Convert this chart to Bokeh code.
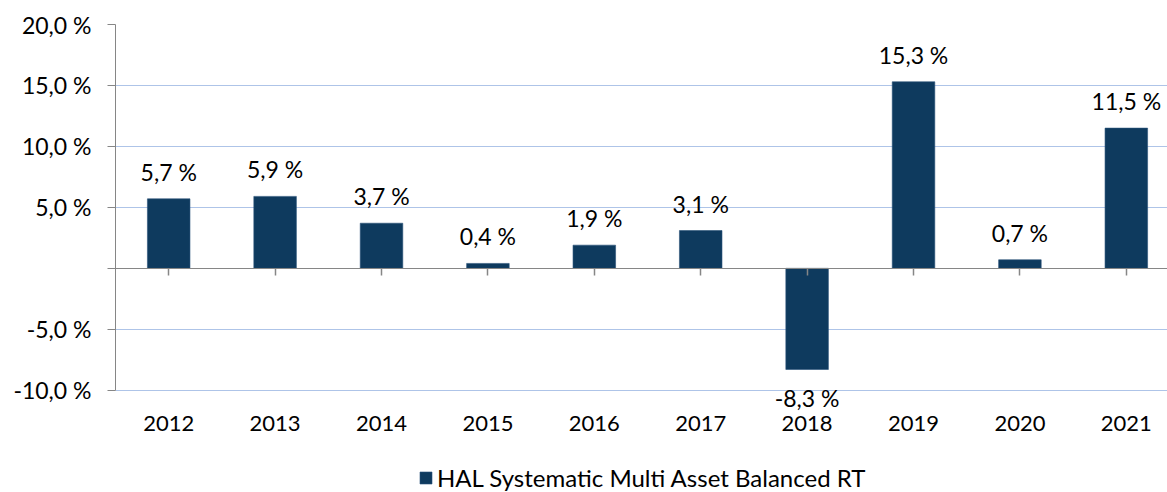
from bokeh.plotting import figure
from bokeh.models import ColumnDataSource, Range1d, FixedTicker, LinearAxis, Legend, LegendItem
from bokeh.core.properties import value
from bokeh.embed import file_html
from bokeh.resources import INLINE

years = [2012, 2013, 2014, 2015, 2016, 2017, 2018, 2019, 2020, 2021]
returns = [5.7, 5.9, 3.7, 0.4, 1.9, 3.1, -8.3, 15.3, 0.7, 11.5]
series_name = "HAL Systematic Multi Asset Balanced RT"
y_ticks = [-10, -5, 0, 5, 10, 15, 20]

FONT = "Lato"
FS = "23px"
BAR = "#0E3A5E"
GREY = "#868686"
GRID = "#aec4e8"

def fmt(v):
    return f"{v:.1f}".replace(".", ",") + " %"

labels = [fmt(v) for v in returns]
src = ColumnDataSource(dict(x=years, top=returns, label=labels))
pos = ColumnDataSource(dict(x=[x for x, v in zip(years, returns) if v >= 0],
                            y=[v for v in returns if v >= 0],
                            label=[l for l, v in zip(labels, returns) if v >= 0]))
neg = ColumnDataSource(dict(x=[x for x, v in zip(years, returns) if v < 0],
                            y=[v for v in returns if v < 0],
                            label=[l for l, v in zip(labels, returns) if v < 0]))

p = figure(width=1167, height=492,
           x_range=Range1d(2011.5, 2021.387), y_range=Range1d(-18.39, 20),
           output_backend="svg", toolbar_location=None,
           min_border_left=115, min_border_right=0, min_border_top=24, min_border_bottom=0)
p.outline_line_color = None
p.background_fill_color = "white"

bars = p.vbar(x="x", top="top", bottom=0, width=0.4, source=src,
              fill_color=BAR, line_color="#2a5378", line_width=0.6)

p.text(x="x", y="y", text="label", source=pos, text_align="center",
       text_baseline="alphabetic", y_offset=-27, text_font=value(FONT),
       text_font_size=FS, text_color="#000000")
p.text(x="x", y="y", text="label", source=neg, text_align="center",
       text_baseline="top", y_offset=15, text_font=value(FONT),
       text_font_size=FS, text_color="#000000")

# y axis
p.yaxis.ticker = FixedTicker(ticks=y_ticks)
p.yaxis.bounds = (-10, 20)
p.yaxis.major_label_overrides = {t: ("" if t == 0 else fmt(t)) for t in y_ticks}
p.yaxis.major_label_text_font = FONT
p.yaxis.major_label_text_font_size = FS
p.yaxis.major_label_text_color = "#000000"
p.yaxis.axis_line_color = GREY
p.yaxis.major_tick_line_color = GREY
p.yaxis.major_tick_in = 0
p.yaxis.major_tick_out = 8
p.yaxis.minor_tick_line_color = None
p.yaxis.major_label_standoff = 16

# x axis (labels only), placed at the bottom of the value range
p.xaxis.fixed_location = -10
p.xaxis.ticker = FixedTicker(ticks=years)
p.xaxis.major_label_overrides = {y: str(y) for y in years}
p.xaxis.major_label_text_font = FONT
p.xaxis.major_label_text_font_size = "22px"
p.xaxis.major_label_text_color = "#000000"
p.xaxis.axis_line_color = None
p.xaxis.major_tick_line_color = None
p.xaxis.minor_tick_line_color = None
p.xaxis.major_label_standoff = 20

# zero axis with ticks
ax0 = LinearAxis(fixed_location=0, ticker=FixedTicker(ticks=years),
                 major_tick_in=0, major_tick_out=7,
                 axis_line_color=GREY, major_tick_line_color=GREY,
                 major_tick_line_width=1.5,
                 minor_tick_line_color=None,
                 major_label_overrides={y: "" for y in years},
                 major_label_standoff=0)
p.add_layout(ax0, "below")

p.xgrid.grid_line_color = None
p.ygrid.ticker = FixedTicker(ticks=[-10, -5, 5, 10, 15, 20])
p.ygrid.grid_line_color = GRID
p.ygrid.grid_line_width = 1.2

legend = Legend(items=[LegendItem(label=series_name, renderers=[bars])],
                location=(303, 0), orientation="horizontal",
                border_line_color=None, background_fill_alpha=0,
                label_text_font=FONT, label_text_font_size="24px",
                label_text_color="#000000", label_standoff=4,
                glyph_width=15, glyph_height=15, margin=0, padding=0)
p.add_layout(legend)

open("out.html", "w").write(file_html(p, INLINE))
